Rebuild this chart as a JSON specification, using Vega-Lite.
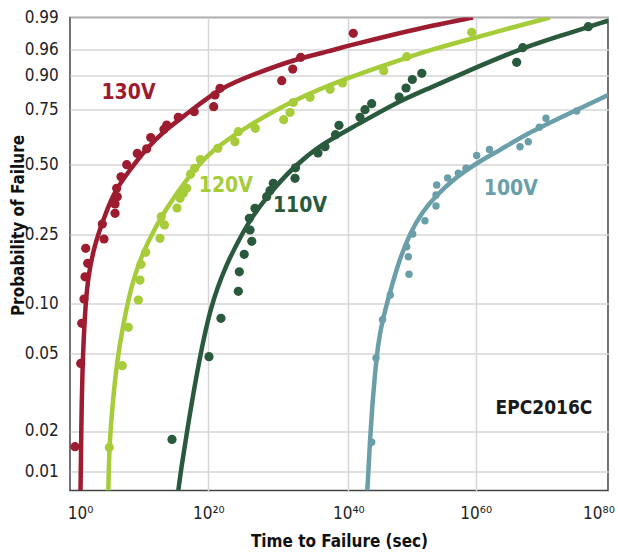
{
  "$schema": "https://vega.github.io/schema/vega-lite/v6.json",
  "autosize": {"type": "none"},
  "padding": {"left": 70, "top": 17.5, "right": 10, "bottom": 63.3},
  "width": 538,
  "height": 473,
  "background": "white",
  "config": {
    "font": "DejaVu Sans Condensed, Roboto, sans-serif",
    "view": {"stroke": "#444", "strokeWidth": 1.5}
  },
  "datasets": {
    "curves": [
      {"s": "130V", "e": 0.08, "p": 0.0052}, {"s": "130V", "e": 0.16, "p": 0.0153}, {"s": "130V", "e": 0.27, "p": 0.032},
      {"s": "130V", "e": 0.42, "p": 0.0463}, {"s": "130V", "e": 0.70, "p": 0.0833}, {"s": "130V", "e": 1.20, "p": 0.1581},
      {"s": "130V", "e": 2.34, "p": 0.2312}, {"s": "130V", "e": 3.79, "p": 0.3143}, {"s": "130V", "e": 5.46, "p": 0.4097},
      {"s": "130V", "e": 7.79, "p": 0.4811}, {"s": "130V", "e": 10.13, "p": 0.5663}, {"s": "130V", "e": 13.25, "p": 0.6566},
      {"s": "130V", "e": 16.84, "p": 0.732}, {"s": "130V", "e": 21.67, "p": 0.8462}, {"s": "130V", "e": 27.39, "p": 0.9076},
      {"s": "130V", "e": 32.1, "p": 0.9353}, {"s": "130V", "e": 37.39, "p": 0.9561}, {"s": "130V", "e": 39.81, "p": 0.9631},
      {"s": "130V", "e": 48.12, "p": 0.9754}, {"s": "130V", "e": 52.83, "p": 0.982}, {"s": "130V", "e": 59.58, "p": 0.99},

      {"s": "120V", "e": 4.41, "p": 0.0052}, {"s": "120V", "e": 4.57, "p": 0.0159}, {"s": "120V", "e": 4.99, "p": 0.0281},
      {"s": "120V", "e": 5.72, "p": 0.0463}, {"s": "120V", "e": 6.75, "p": 0.0803}, {"s": "120V", "e": 8.31, "p": 0.1575},
      {"s": "120V", "e": 10.4, "p": 0.2312}, {"s": "120V", "e": 13.25, "p": 0.3382}, {"s": "120V", "e": 16.88, "p": 0.4571},
      {"s": "120V", "e": 20.49, "p": 0.5663}, {"s": "120V", "e": 25.49, "p": 0.6715}, {"s": "120V", "e": 32.14, "p": 0.791},
      {"s": "120V", "e": 39.77, "p": 0.8881}, {"s": "120V", "e": 48.12, "p": 0.9353}, {"s": "120V", "e": 52.83, "p": 0.9584},
      {"s": "120V", "e": 59.62, "p": 0.9704}, {"s": "120V", "e": 65.17, "p": 0.9801}, {"s": "120V", "e": 71.2, "p": 0.99},

      {"s": "110V", "e": 15.32, "p": 0.0052}, {"s": "110V", "e": 15.74, "p": 0.0103}, {"s": "110V", "e": 16.63, "p": 0.0194},
      {"s": "110V", "e": 18.19, "p": 0.0423}, {"s": "110V", "e": 20.24, "p": 0.0966}, {"s": "110V", "e": 22.63, "p": 0.1875},
      {"s": "110V", "e": 24.53, "p": 0.2428}, {"s": "110V", "e": 25.96, "p": 0.3025}, {"s": "110V", "e": 28.34, "p": 0.3857},
      {"s": "110V", "e": 32.14, "p": 0.4929}, {"s": "110V", "e": 36.43, "p": 0.5979}, {"s": "110V", "e": 40.27, "p": 0.6611},
      {"s": "110V", "e": 47.6, "p": 0.7822}, {"s": "110V", "e": 52.83, "p": 0.844}, {"s": "110V", "e": 59.1, "p": 0.9122},
      {"s": "110V", "e": 66.94, "p": 0.961}, {"s": "110V", "e": 72.71, "p": 0.9726}, {"s": "110V", "e": 80, "p": 0.987},

      {"s": "100V", "e": 42.98, "p": 0.0052}, {"s": "100V", "e": 43.17, "p": 0.0103}, {"s": "100V", "e": 43.41, "p": 0.0178},
      {"s": "100V", "e": 43.72, "p": 0.0281}, {"s": "100V", "e": 44.19, "p": 0.0423}, {"s": "100V", "e": 44.66, "p": 0.0583},
      {"s": "100V", "e": 45.24, "p": 0.08}, {"s": "100V", "e": 46.54, "p": 0.1247}, {"s": "100V", "e": 48.11, "p": 0.199},
      {"s": "100V", "e": 49.69, "p": 0.255}, {"s": "100V", "e": 51.57, "p": 0.3311}, {"s": "100V", "e": 53.88, "p": 0.3918},
      {"s": "100V", "e": 56.75, "p": 0.4525}, {"s": "100V", "e": 59.89, "p": 0.5031}, {"s": "100V", "e": 63.67, "p": 0.5663},
      {"s": "100V", "e": 68.19, "p": 0.6476}, {"s": "100V", "e": 74.22, "p": 0.7333}, {"s": "100V", "e": 80, "p": 0.8131}
    ],
    "points": [
      {"s": "130V", "e": -0.78, "p": 0.0161}, {"s": "130V", "e": 0.11, "p": 0.0461}, {"s": "130V", "e": 0.27, "p": 0.080},
      {"s": "130V", "e": 0.62, "p": 0.1094}, {"s": "130V", "e": 0.78, "p": 0.158}, {"s": "130V", "e": 1.20, "p": 0.1875},
      {"s": "130V", "e": 0.89, "p": 0.2203}, {"s": "130V", "e": 3.74, "p": 0.2406}, {"s": "130V", "e": 3.48, "p": 0.288},
      {"s": "130V", "e": 5.46, "p": 0.3265}, {"s": "130V", "e": 5.46, "p": 0.3597}, {"s": "130V", "e": 5.81, "p": 0.3857},
      {"s": "130V", "e": 5.72, "p": 0.4157}, {"s": "130V", "e": 6.39, "p": 0.457}, {"s": "130V", "e": 7.28, "p": 0.50},
      {"s": "130V", "e": 8.93, "p": 0.551}, {"s": "130V", "e": 10.40, "p": 0.5717}, {"s": "130V", "e": 11.02, "p": 0.6227},
      {"s": "130V", "e": 13.09, "p": 0.6597}, {"s": "130V", "e": 13.52, "p": 0.6791}, {"s": "130V", "e": 15.32, "p": 0.7139},
      {"s": "130V", "e": 17.80, "p": 0.7392}, {"s": "130V", "e": 20.77, "p": 0.7615}, {"s": "130V", "e": 20.96, "p": 0.8131},
      {"s": "130V", "e": 21.67, "p": 0.8426}, {"s": "130V", "e": 30.49, "p": 0.8762}, {"s": "130V", "e": 32.06, "p": 0.9145},
      {"s": "130V", "e": 33.2, "p": 0.9415}, {"s": "130V", "e": 40.78, "p": 0.9751},

      {"s": "120V", "e": 4.57, "p": 0.0159}, {"s": "120V", "e": 6.59, "p": 0.0452}, {"s": "120V", "e": 7.53, "p": 0.076},
      {"s": "120V", "e": 9.09, "p": 0.1072}, {"s": "120V", "e": 9.35, "p": 0.1509}, {"s": "120V", "e": 9.51, "p": 0.1853},
      {"s": "120V", "e": 10.24, "p": 0.2115}, {"s": "120V", "e": 12.47, "p": 0.2421}, {"s": "120V", "e": 13.17, "p": 0.2847},
      {"s": "120V", "e": 12.67, "p": 0.3143}, {"s": "120V", "e": 15.12, "p": 0.3454}, {"s": "120V", "e": 15.59, "p": 0.38},
      {"s": "120V", "e": 16.1, "p": 0.3979}, {"s": "120V", "e": 16.63, "p": 0.4157}, {"s": "120V", "e": 17.23, "p": 0.4661},
      {"s": "120V", "e": 17.86, "p": 0.4871}, {"s": "120V", "e": 18.78, "p": 0.5234}, {"s": "120V", "e": 21.36, "p": 0.574},
      {"s": "120V", "e": 23.81, "p": 0.6038}, {"s": "120V", "e": 24.29, "p": 0.6489}, {"s": "120V", "e": 26.71, "p": 0.6643},
      {"s": "120V", "e": 30.77, "p": 0.7031}, {"s": "120V", "e": 31.67, "p": 0.7356}, {"s": "120V", "e": 32.14, "p": 0.78},
      {"s": "120V", "e": 34.53, "p": 0.8029}, {"s": "120V", "e": 37.39, "p": 0.8382}, {"s": "120V", "e": 39.17, "p": 0.866},
      {"s": "120V", "e": 45.56, "p": 0.9106}, {"s": "120V", "e": 49.17, "p": 0.9429}, {"s": "120V", "e": 59.37, "p": 0.976},

      {"s": "110V", "e": 14.34, "p": 0.0179}, {"s": "110V", "e": 20.1, "p": 0.0487}, {"s": "110V", "e": 21.81, "p": 0.085},
      {"s": "110V", "e": 24.29, "p": 0.1262}, {"s": "110V", "e": 24.43, "p": 0.1689}, {"s": "110V", "e": 25.13, "p": 0.2071},
      {"s": "110V", "e": 26.21, "p": 0.2356}, {"s": "110V", "e": 25.96, "p": 0.2668}, {"s": "110V", "e": 25.86, "p": 0.3086},
      {"s": "110V", "e": 26.67, "p": 0.3443}, {"s": "110V", "e": 28.34, "p": 0.3857}, {"s": "110V", "e": 28.81, "p": 0.4072},
      {"s": "110V", "e": 29.29, "p": 0.4336}, {"s": "110V", "e": 32.39, "p": 0.4514}, {"s": "110V", "e": 32.46, "p": 0.4889},
      {"s": "110V", "e": 35.67, "p": 0.5528}, {"s": "110V", "e": 36.67, "p": 0.5812}, {"s": "110V", "e": 38.17, "p": 0.6354},
      {"s": "110V", "e": 38.67, "p": 0.6778}, {"s": "110V", "e": 41.84, "p": 0.7139}, {"s": "110V", "e": 42.62, "p": 0.7482},
      {"s": "110V", "e": 43.67, "p": 0.7747}, {"s": "110V", "e": 47.99, "p": 0.8041}, {"s": "110V", "e": 49.06, "p": 0.844},
      {"s": "110V", "e": 50.05, "p": 0.8815}, {"s": "110V", "e": 51.54, "p": 0.9046}, {"s": "110V", "e": 66.18, "p": 0.93},
      {"s": "110V", "e": 67.09, "p": 0.9615}, {"s": "110V", "e": 76.98, "p": 0.9813},

      {"s": "100V", "e": 43.67, "p": 0.0172}, {"s": "100V", "e": 44.35, "p": 0.0482}, {"s": "100V", "e": 45.37, "p": 0.0836},
      {"s": "100V", "e": 46.59, "p": 0.1181}, {"s": "100V", "e": 49.53, "p": 0.1634}, {"s": "100V", "e": 49.42, "p": 0.2019},
      {"s": "100V", "e": 49.17, "p": 0.2238}, {"s": "100V", "e": 50.11, "p": 0.2525}, {"s": "100V", "e": 52.04, "p": 0.30},
      {"s": "100V", "e": 53.77, "p": 0.3525}, {"s": "100V", "e": 53.77, "p": 0.3918}, {"s": "100V", "e": 53.88, "p": 0.4275},
      {"s": "100V", "e": 55.6, "p": 0.4525}, {"s": "100V", "e": 57.27, "p": 0.4693}, {"s": "100V", "e": 58.48, "p": 0.4871},
      {"s": "100V", "e": 60.15, "p": 0.5415}, {"s": "100V", "e": 62.08, "p": 0.5686}, {"s": "100V", "e": 66.68, "p": 0.5812},
      {"s": "100V", "e": 67.93, "p": 0.6038}, {"s": "100V", "e": 69.59, "p": 0.6688}, {"s": "100V", "e": 70.6, "p": 0.7094},
      {"s": "100V", "e": 75.23, "p": 0.7423}
    ],
    "labels": [
      {"s": "130V", "t": "130V", "e": 7.56, "p": 0.822},
      {"s": "120V", "t": "120V", "e": 22.5, "p": 0.4246},
      {"s": "110V", "t": "110V", "e": 33.1, "p": 0.353},
      {"s": "100V", "t": "100V", "e": 65.3, "p": 0.4125},
      {"s": "EPC2016C", "t": "EPC2016C", "e": 70.3, "p": 0.0289}
    ]
  },
  "encoding": {
    "x": {
      "field": "e", "type": "quantitative",
      "scale": {"domain": [-1.56, 0, 20, 40, 60, 80], "range": [0, 10, 138.3, 278.3, 405.7, 538.3], "nice": false, "zero": false},
      "axis": {
        "values": [0, 20, 40, 60, 80],
        "labelExpr": "datum.value == 0 ? '10⁰' : datum.value == 20 ? '10²⁰' : datum.value == 40 ? '10⁴⁰' : datum.value == 60 ? '10⁶⁰' : '10⁸⁰'",
        "labelFontSize": 17, "labelColor": "#222", "labelPadding": 15, "labelFlush": true, "labelFlushOffset": 6, "labelOverlap": false,
        "ticks": false, "domain": false,
        "grid": true, "gridColor": "#d6d6d6", "gridWidth": 1.5,
        "gridOpacity": {"condition": {"test": "datum.value == 0 || datum.value == 80", "value": 0}, "value": 1},
        "title": "Time to Failure (sec)", "titleFontSize": 17, "titleFontWeight": "bold", "titleColor": "#111",
        "titleX": 269, "titleY": 51.3, "titleBaseline": "middle", "titleAlign": "center"
      }
    },
    "y": {
      "field": "p", "type": "quantitative",
      "scale": {"domain": [0.0052, 0.01, 0.02, 0.05, 0.10, 0.25, 0.50, 0.75, 0.90, 0.96, 0.99], "range": [473.2, 453.8, 413.5, 335.8, 285.8, 217.2, 147.2, 91.8, 57.8, 31.8, 0], "nice": false, "zero": false},
      "axis": {
        "values": [0.01, 0.02, 0.05, 0.10, 0.25, 0.50, 0.75, 0.90, 0.96, 0.99],
        "format": ".2f",
        "labelFontSize": 17, "labelColor": "#222", "labelPadding": 11.7, "labelOverlap": false,
        "ticks": false, "domain": false,
        "grid": true, "gridColor": "#d6d6d6", "gridWidth": 1.5,
        "title": "Probability of Failure", "titleFontSize": 17, "titleFontWeight": "bold", "titleColor": "#111",
        "titleX": -52, "titleY": 207.5, "titleAngle": -90, "titleBaseline": "middle", "titleAlign": "center"
      }
    },
    "color": {
      "field": "s", "type": "nominal", "legend": null,
      "scale": {"domain": ["130V", "120V", "110V", "100V", "EPC2016C"], "range": ["#9d1c2f", "#a6cc3a", "#2a5a3e", "#6a9fa9", "#1a1a1a"]}
    }
  },
  "layer": [
    {
      "data": {"name": "curves"},
      "mark": {"type": "line", "interpolate": "basis", "strokeWidth": 4.5, "clip": true}
    },
    {
      "data": {"name": "points"},
      "mark": {"type": "circle", "opacity": 1, "clip": true},
      "encoding": {
        "size": {"condition": {"test": "datum.s == '100V'", "value": 55}, "value": 85}
      }
    },
    {
      "data": {"name": "labels"},
      "mark": {"type": "text", "fontWeight": "bold", "align": "center", "baseline": "middle"},
      "encoding": {
        "text": {"field": "t"},
        "size": {"condition": {"test": "datum.s == 'EPC2016C'", "value": 19}, "value": 21}
      }
    }
  ]
}
